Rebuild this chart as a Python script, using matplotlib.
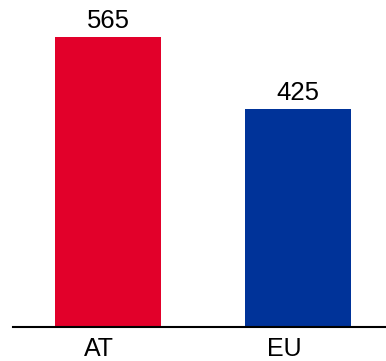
import matplotlib.pyplot as plt
from matplotlib.transforms import ScaledTranslation

regions = ['AT', 'EU']
values = [565, 425]
colors = ['#E2002A', '#003399']

fig = plt.figure(figsize=(3.86, 3.61), dpi=100)
ax = fig.add_axes([13 / 386, 1 - 326.5 / 361, 1 - 13 / 386, 326.5 / 361])

x = range(len(regions))
bars = ax.bar(x, values, width=0.558, color=colors)

for rect, v in zip(bars, values):
    ax.text(rect.get_x() + rect.get_width() / 2, v + 8, str(v),
            ha='center', va='bottom', fontsize=18.5, family='Liberation Sans')

ax.set_xlim(-0.5, 1.463)
ax.set_ylim(0, 565 * 326.5 / 289.5)
ax.set_xticks(list(x))
ax.set_xticklabels(regions, fontsize=18, family='Liberation Sans')
ax.tick_params(axis='x', length=0, pad=7.5)
# labels sit a little left of the bar centres
for lab, dx in zip(ax.get_xticklabels(), [-9, -13.5]):
    lab.set_transform(lab.get_transform() + ScaledTranslation(dx / 100, 0, fig.dpi_scale_trans))
ax.set_yticks([])
for side in ['top', 'right', 'left']:
    ax.spines[side].set_visible(False)
ax.spines['bottom'].set_linewidth(1.5)

fig.savefig('out.png', dpi=100)
